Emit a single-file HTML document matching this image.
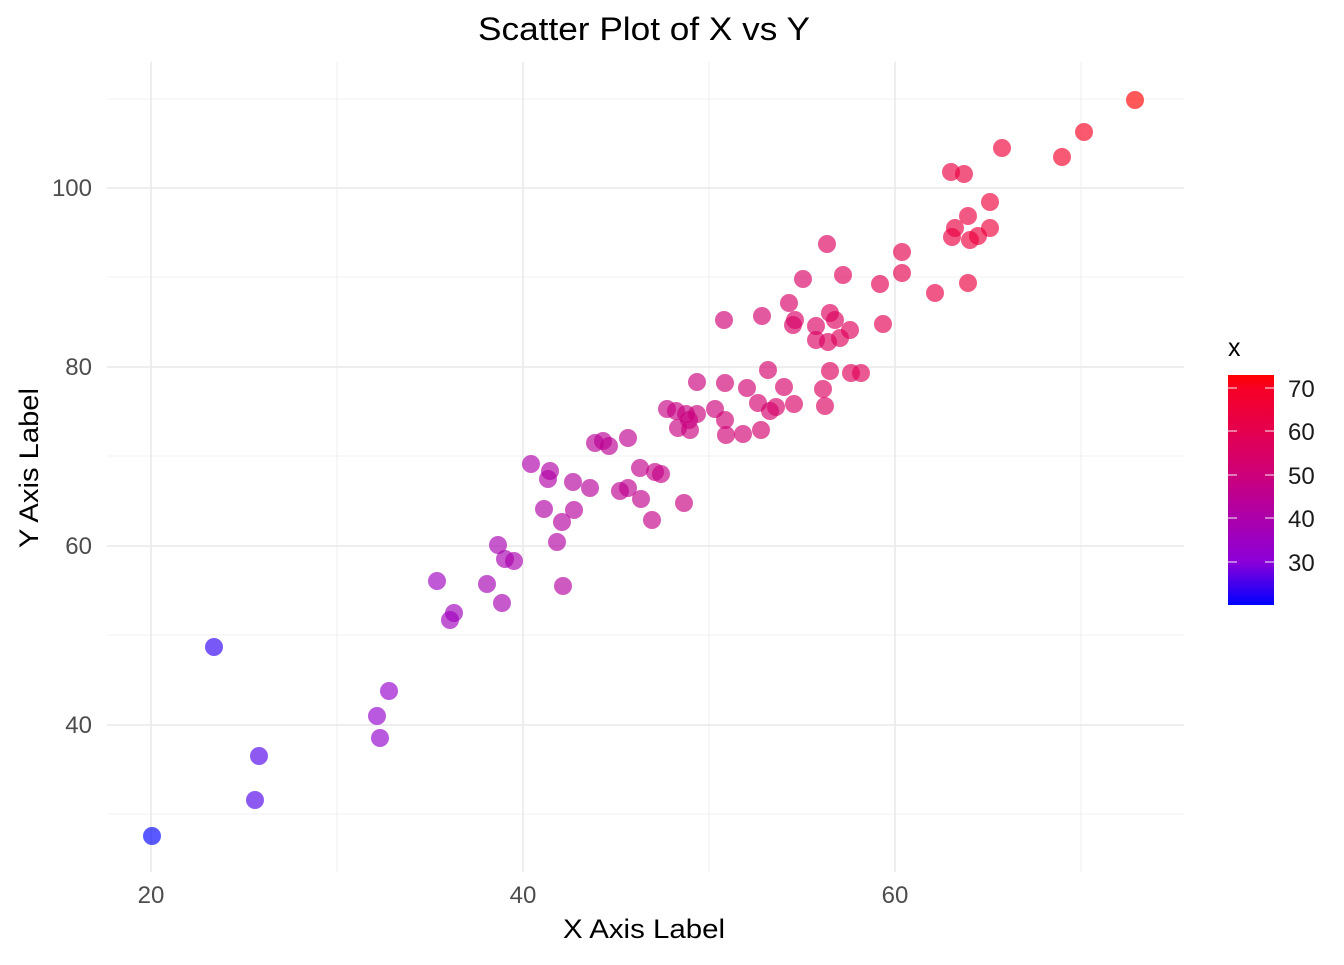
<!DOCTYPE html>
<html><head><meta charset="utf-8"><style>
body{margin:0;background:#fff;font-family:"Liberation Sans",sans-serif}
svg text{font-family:"Liberation Sans",sans-serif}
</style></head><body>
<svg id="s" width="1344" height="960" xmlns="http://www.w3.org/2000/svg">
<defs><linearGradient id="g" x1="0" y1="1" x2="0" y2="0">
<stop offset="0" stop-color="rgb(0,0,255)"/>
<stop offset="0.19" stop-color="rgb(140,0,215)"/>
<stop offset="0.38" stop-color="rgb(172,0,170)"/>
<stop offset="0.57" stop-color="rgb(205,0,120)"/>
<stop offset="0.75" stop-color="rgb(228,0,80)"/>
<stop offset="0.94" stop-color="rgb(246,0,38)"/>
<stop offset="1" stop-color="rgb(255,0,0)"/>
</linearGradient></defs>
<g stroke="#ebebeb" stroke-width="0.8">
<line x1="337" y1="62" x2="337" y2="872"/><line x1="709" y1="62" x2="709" y2="872"/><line x1="1081" y1="62" x2="1081" y2="872"/>
<line x1="107" y1="99" x2="1184" y2="99"/><line x1="107" y1="277" x2="1184" y2="277"/><line x1="107" y1="456" x2="1184" y2="456"/><line x1="107" y1="635" x2="1184" y2="635"/><line x1="107" y1="814" x2="1184" y2="814"/>
</g>
<g stroke="#ebebeb" stroke-width="1.7">
<line x1="151" y1="62" x2="151" y2="872"/><line x1="523" y1="62" x2="523" y2="872"/><line x1="895" y1="62" x2="895" y2="872"/>
<line x1="107" y1="188" x2="1184" y2="188"/><line x1="107" y1="367" x2="1184" y2="367"/><line x1="107" y1="546" x2="1184" y2="546"/><line x1="107" y1="725" x2="1184" y2="725"/>
</g>
<g id="pts"></g>
<g font-size="24" fill="#4d4d4d">
<text x="151" y="903" text-anchor="middle">20</text><text x="523" y="903" text-anchor="middle">40</text><text x="895" y="903" text-anchor="middle">60</text>
<text x="92" y="196" text-anchor="end">100</text><text x="92" y="375" text-anchor="end">80</text><text x="92" y="554" text-anchor="end">60</text><text x="92" y="733" text-anchor="end">40</text>
</g>
<text x="563" y="938" font-size="27" textLength="162" lengthAdjust="spacingAndGlyphs">X Axis Label</text>
<text transform="translate(38,548) rotate(-90)" font-size="27" textLength="160" lengthAdjust="spacingAndGlyphs">Y Axis Label</text>
<text x="478" y="40" font-size="32" textLength="332" lengthAdjust="spacingAndGlyphs">Scatter Plot of X vs Y</text>
<text x="1228" y="356" font-size="25">x</text>
<rect x="1228" y="375" width="46" height="230" fill="url(#g)"/>
<g stroke="#fff" stroke-width="1.2" opacity="0.8">
<line x1="1228" y1="388" x2="1237" y2="388"/><line x1="1265" y1="388" x2="1274" y2="388"/>
<line x1="1228" y1="431" x2="1237" y2="431"/><line x1="1265" y1="431" x2="1274" y2="431"/>
<line x1="1228" y1="475" x2="1237" y2="475"/><line x1="1265" y1="475" x2="1274" y2="475"/>
<line x1="1228" y1="518" x2="1237" y2="518"/><line x1="1265" y1="518" x2="1274" y2="518"/>
<line x1="1228" y1="562" x2="1237" y2="562"/><line x1="1265" y1="562" x2="1274" y2="562"/>
</g>
<g font-size="24" fill="#1a1a1a">
<text x="1288" y="397">70</text><text x="1288" y="440">60</text><text x="1288" y="484">50</text><text x="1288" y="527">40</text><text x="1288" y="571">30</text>
</g>
</svg>
<script>
var P=[[1135,100],[1084,132],[1002,148],[1062,157],[951,172],[964,174],[990,202],[968,216],[955,228],[990,228],[952,237],[978,236],[970,240],[827,244],[902,252],[843,275],[902,273],[803,279],[880,284],[968,283],[935,293],[789,303],[724,320],[762,316],[795,320],[793,325],[830,313],[835,320],[883,324],[850,330],[816,326],[828,342],[840,338],[816,340],[768,370],[830,371],[851,373],[861,373],[697,382],[725,383],[784,387],[747,388],[823,389],[794,404],[825,406],[758,403],[776,407],[770,411],[667,409],[676,411],[715,409],[686,414],[697,414],[725,420],[689,420],[678,428],[690,430],[761,430],[743,434],[726,435],[595,443],[603,441],[609,446],[628,438],[531,464],[550,471],[548,479],[640,468],[655,472],[661,474],[573,482],[590,488],[620,491],[628,488],[641,499],[684,503],[544,509],[574,510],[562,522],[652,520],[557,542],[498,545],[505,559],[514,561],[437,581],[487,584],[563,586],[454,613],[450,620],[502,603],[214,647],[389,691],[377,716],[259,756],[380,738],[255,800],[152,836]];
var S=[[0,0,0,255],[0.19,140,0,215],[0.38,172,0,170],[0.57,205,0,120],[0.75,228,0,80],[0.94,246,0,38],[1,255,0,0]];
function col(t){for(var i=1;i<S.length;i++){if(t<=S[i][0]){var a=S[i-1],b=S[i],f=(t-a[0])/(b[0]-a[0]);return 'rgb('+[1,2,3].map(function(k){return Math.round(a[k]+(b[k]-a[k])*f)}).join(',')+')';}}return 'rgb(255,0,0)';}
var h='';P.forEach(function(p){var v=20+(p[0]-151)/18.6;var t=Math.max(0,Math.min(1,(v-20)/53));h+='<circle cx="'+p[0]+'" cy="'+p[1]+'" r="9" fill="'+col(t)+'" fill-opacity="0.65"/>';});
document.getElementById('pts').innerHTML=h;
</script>
</body></html>
